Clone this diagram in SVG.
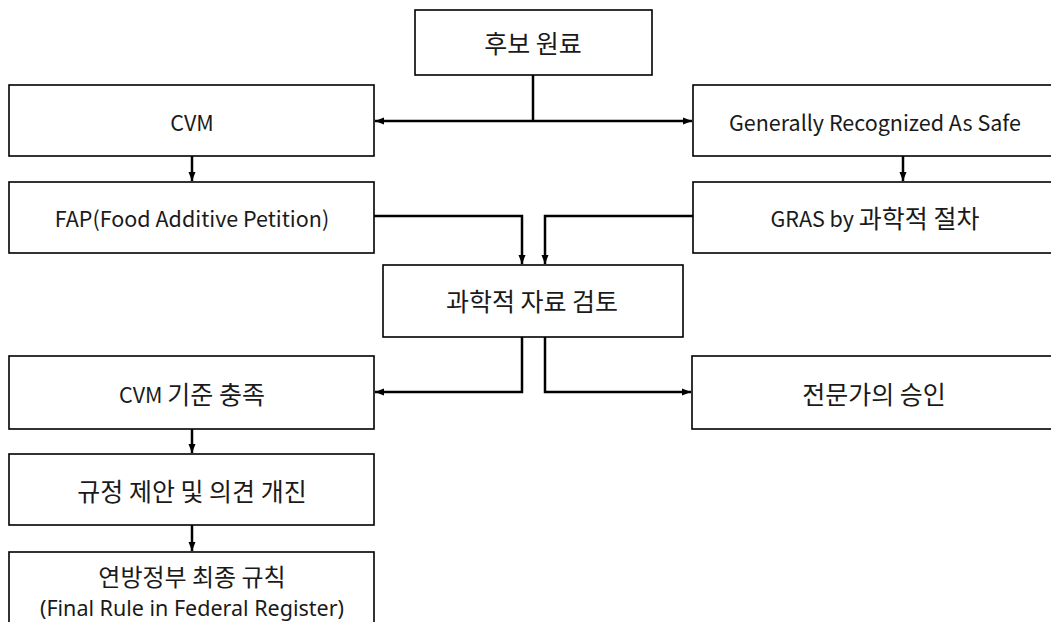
<svg xmlns="http://www.w3.org/2000/svg" width="1051" height="622" viewBox="0 0 1051 622">
<style>
.box{fill:#fff;stroke:#000;stroke-width:1.6}
.t{font-family:"Noto Sans CJK KR","Noto Sans",sans-serif;font-size:21.5px;fill:#1a1a1a;text-anchor:middle;dominant-baseline:central}
.l{font-family:"Noto Sans","Noto Sans CJK KR",sans-serif}
.k{font-size:25px}
.c{fill:none;stroke:#000;stroke-width:2.5}
</style>
<defs>
<marker id="ah" markerUnits="userSpaceOnUse" markerWidth="10" markerHeight="10" refX="9" refY="5" orient="auto">
<path d="M0,1.5 L9,5 L0,8.5 Z" fill="#000"/>
</marker>
</defs>
<rect width="1051" height="622" fill="#fff"/>
<g id="n1"><rect class="box" x="415" y="10" width="237" height="65"/><text class="t k" x="533" y="42">후보 원료</text></g>
<g id="n2"><rect class="box" x="9" y="85" width="365" height="71"/><text class="t" x="192" y="121">CVM</text></g>
<g id="n3"><rect class="box" x="693" y="85" width="365" height="71"/><text class="t" x="875" y="121">Generally Recognized As Safe</text></g>
<g id="n4"><rect class="box" x="9" y="182" width="365" height="71"/><text class="t" x="192" y="217">FAP(Food Additive Petition)</text></g>
<g id="n5"><rect class="box" x="693" y="182" width="365" height="71"/><text class="t" x="875" y="217">GRAS by <tspan class="k">과학적 절차</tspan></text></g>
<g id="n6"><rect class="box" x="383" y="265" width="300" height="72"/><text class="t k" x="532" y="300">과학적 자료 검토</text></g>
<g id="n7"><rect class="box" x="9" y="356" width="365" height="73"/><text class="t" x="192" y="393">CVM <tspan class="k">기준 충족</tspan></text></g>
<g id="n8"><rect class="box" x="692" y="356" width="366" height="73"/><text class="t k" x="874" y="393">전문가의 승인</text></g>
<g id="n9"><rect class="box" x="9" y="454" width="365" height="71"/><text class="t k" x="192" y="490">규정 제안 및 의견 개진</text></g>
<g id="n10"><rect class="box" x="9" y="552" width="365" height="80"/><text class="t" x="192" y="575" style="font-size:24px">연방정부 최종 규칙</text><text class="t l" x="192" y="607">(Final Rule in Federal Register)</text></g>
<g id="connectors">
<path class="c" d="M533,75 V121"/>
<path class="c" d="M533,121 H375" marker-end="url(#ah)"/>
<path class="c" d="M533,121 H692" marker-end="url(#ah)"/>
<path class="c" d="M192,156 V181" marker-end="url(#ah)"/>
<path class="c" d="M903,156 V181" marker-end="url(#ah)"/>
<path class="c" d="M374,216 H522 V264" marker-end="url(#ah)"/>
<path class="c" d="M693,216 H545 V264" marker-end="url(#ah)"/>
<path class="c" d="M522,337 V392 H375" marker-end="url(#ah)"/>
<path class="c" d="M545,337 V392 H691" marker-end="url(#ah)"/>
<path class="c" d="M192,429 V453" marker-end="url(#ah)"/>
<path class="c" d="M192,525 V551" marker-end="url(#ah)"/>
</g>
</svg>
